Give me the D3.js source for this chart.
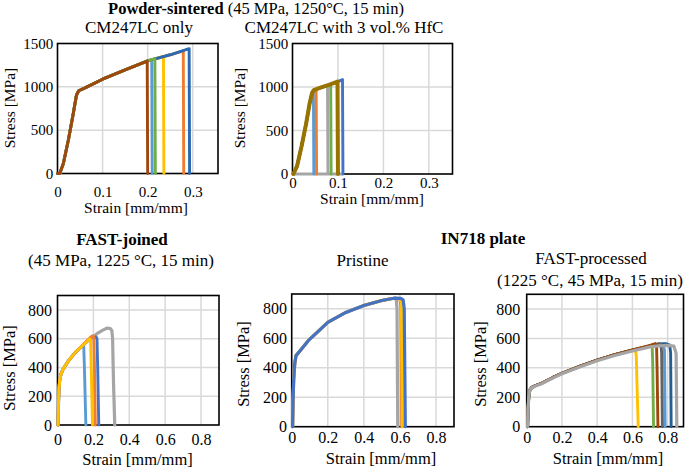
<!DOCTYPE html>
<html><head><meta charset="utf-8">
<script src="https://cdn.jsdelivr.net/npm/d3@7"></script>
<style>
body{margin:0;background:#fff}
svg{display:block}
</style>
</head><body>
<svg id="chart" width="685" height="470"></svg>
<script>
// ---------- tick labels ----------
const ticksXTop = [0, 0.1, 0.2, 0.3];
const ticksYTop = [0, 500, 1000, 1500];
const ticksXBottom = [0, 0.2, 0.4, 0.6, 0.8];
const ticksYBottom = [0, 200, 400, 600, 800];

// ---------- Panel 1: Powder-sintered CM247LC only  [strain, stress] ----------
const cmOnlyLightBlue = [[0,0],[0.005,0],[0.013,115],[0.024,384],[0.035,692],[0.042,903],[0.047,955],[0.06,985],[0.1,1088],[0.15,1195],[0.2,1299],[0.209,1313],[0.21,0]];
const cmOnlyOrange = [[0,0],[0.005,0],[0.013,115],[0.024,384],[0.035,692],[0.042,903],[0.047,955],[0.06,985],[0.1,1088],[0.15,1195],[0.2,1299],[0.25,1370],[0.279,1415],[0.28,0]];
const cmOnlyYellow = [[0,0],[0.005,0],[0.013,115],[0.024,384],[0.035,692],[0.042,903],[0.047,955],[0.06,985],[0.1,1088],[0.15,1195],[0.2,1299],[0.235,1350],[0.236,0]];
const cmOnlyDarkBlue = [[0,0],[0.005,0],[0.013,115],[0.024,384],[0.035,692],[0.042,903],[0.047,955],[0.06,985],[0.1,1088],[0.15,1195],[0.2,1299],[0.25,1370],[0.292,1440],[0.293,0]];
const cmOnlyGreen = [[0,0],[0.005,0],[0.013,115],[0.024,384],[0.035,692],[0.042,903],[0.047,955],[0.06,985],[0.1,1088],[0.15,1195],[0.2,1299],[0.216,1324],[0.217,0]];
const cmOnlyBrown = [[0,0],[0.005,0],[0.013,115],[0.024,384],[0.035,692],[0.042,903],[0.047,955],[0.06,985],[0.1,1088],[0.15,1195],[0.199,1297],[0.2,0]];

// ---------- Panel 2: CM247LC with 3 vol.% HfC ----------
const hfcGray = [[0.11,0],[0,0],[0.002,0],[0.01,90],[0.02,320],[0.03,580],[0.038,820],[0.043,930],[0.047,965],[0.06,990],[0.077,1020],[0.078,0]];
const hfcLightBlue = [[0.002,0],[0.01,90],[0.02,320],[0.03,580],[0.038,820],[0.043,930],[0.046,960],[0.047,0]];
const hfcOrange = [[0.002,0],[0.01,90],[0.02,320],[0.03,580],[0.038,820],[0.043,930],[0.047,965],[0.052,975],[0.053,0]];
const hfcGreen = [[0.002,0],[0.01,90],[0.02,320],[0.03,580],[0.038,820],[0.043,930],[0.047,965],[0.06,990],[0.08,1025],[0.084,1032],[0.085,0]];
const hfcBlue = [[0.002,0],[0.01,90],[0.02,320],[0.03,580],[0.038,820],[0.043,930],[0.047,965],[0.06,990],[0.08,1025],[0.1,1062],[0.11,1085],[0.111,0]];
const hfcOlive = [[0.002,0],[0.01,90],[0.02,320],[0.03,580],[0.038,820],[0.043,930],[0.047,965],[0.06,990],[0.08,1025],[0.099,1062],[0.1,0]];

// ---------- Panel 3: FAST-joined ----------
const joinedGray = [[0.003,0],[0.005,120],[0.008,250],[0.013,320],[0.02,355],[0.03,385],[0.045,415],[0.062,448],[0.08,475],[0.1,505],[0.137,550],[0.16,575],[0.18,600],[0.2,615],[0.22,635],[0.25,658],[0.277,674],[0.295,670],[0.303,655],[0.307,600],[0.312,300],[0.319,0]];
const joinedDarkBlue = [[0.003,0],[0.005,120],[0.008,250],[0.013,320],[0.02,355],[0.03,385],[0.045,415],[0.062,448],[0.08,475],[0.1,505],[0.137,550],[0.16,575],[0.18,598],[0.2,610],[0.215,612],[0.22,600],[0.224,400],[0.23,0]];
const joinedLightBlue = [[0.003,0],[0.005,120],[0.008,250],[0.013,320],[0.02,355],[0.03,385],[0.045,415],[0.062,448],[0.08,475],[0.1,505],[0.137,550],[0.146,555],[0.15,400],[0.158,0]];
const joinedOrange = [[0.003,0],[0.005,120],[0.008,250],[0.013,320],[0.02,355],[0.03,385],[0.045,415],[0.062,448],[0.08,475],[0.1,505],[0.137,550],[0.16,580],[0.18,605],[0.195,620],[0.202,612],[0.206,400],[0.211,0]];
const joinedYellow = [[0.003,0],[0.005,120],[0.008,250],[0.013,320],[0.02,355],[0.03,385],[0.045,415],[0.062,448],[0.08,475],[0.1,505],[0.137,550],[0.16,575],[0.18,600],[0.184,596],[0.188,400],[0.195,0]];

// ---------- Panel 4: IN718 pristine ----------
const pristineGray = [[0.005,0],[0.007,150],[0.011,320],[0.017,430],[0.024,482],[0.05,520],[0.093,585],[0.15,650],[0.2,708],[0.3,775],[0.4,822],[0.5,856],[0.55,868],[0.575,872],[0.58,860],[0.584,800],[0.588,0]];
const pristineOrange = [[0.005,0],[0.007,150],[0.011,320],[0.017,430],[0.024,482],[0.05,520],[0.093,585],[0.15,650],[0.2,708],[0.3,775],[0.4,822],[0.5,856],[0.55,868],[0.575,872],[0.598,868],[0.605,820],[0.61,0]];
const pristineYellow = [[0.005,0],[0.007,150],[0.011,320],[0.017,430],[0.024,482],[0.05,520],[0.093,585],[0.15,650],[0.2,708],[0.3,775],[0.4,822],[0.5,856],[0.55,868],[0.575,872],[0.6,866],[0.608,840],[0.614,0]];
const pristineBlue = [[0.005,0],[0.007,150],[0.011,320],[0.017,430],[0.024,482],[0.05,520],[0.093,585],[0.15,650],[0.2,708],[0.3,775],[0.4,822],[0.5,856],[0.55,868],[0.575,872],[0.605,870],[0.618,860],[0.624,800],[0.63,0]];

// ---------- Panel 5: IN718 FAST-processed ----------
const processedYellow = [[0.005,0],[0.008,120],[0.012,210],[0.018,250],[0.03,268],[0.05,280],[0.085,295],[0.15,335],[0.2,363],[0.3,410],[0.4,453],[0.5,490],[0.6,521],[0.617,524],[0.622,480],[0.627,250],[0.633,0]];
const processedGreen = [[0.005,0],[0.008,120],[0.012,210],[0.018,250],[0.03,268],[0.05,280],[0.085,295],[0.15,335],[0.2,363],[0.3,410],[0.4,453],[0.5,490],[0.6,521],[0.7,550],[0.712,552],[0.715,450],[0.72,0]];
const processedLightBlue = [[0.005,0],[0.008,120],[0.012,210],[0.018,250],[0.03,268],[0.05,280],[0.085,295],[0.15,335],[0.2,363],[0.3,410],[0.4,453],[0.5,490],[0.6,521],[0.7,550],[0.75,562],[0.775,560],[0.782,520],[0.786,0]];
const processedDarkBlue = [[0.005,0],[0.008,120],[0.012,210],[0.018,250],[0.03,268],[0.05,280],[0.085,295],[0.15,335],[0.2,363],[0.3,410],[0.4,453],[0.5,490],[0.6,521],[0.7,550],[0.75,562],[0.79,565],[0.812,555],[0.817,500],[0.82,0]];
const processedDarkGray = [[0.005,0],[0.008,120],[0.012,210],[0.018,250],[0.03,268],[0.05,280],[0.085,295],[0.15,335],[0.2,363],[0.3,410],[0.4,453],[0.5,490],[0.6,521],[0.7,550],[0.75,562],[0.762,560],[0.766,500],[0.77,0]];
const processedBrown = [[0.005,0],[0.008,120],[0.012,210],[0.018,250],[0.03,268],[0.05,280],[0.085,295],[0.15,335],[0.2,363],[0.3,410],[0.4,453],[0.5,490],[0.6,522],[0.7,553],[0.73,565],[0.737,555],[0.74,400],[0.745,0]];
const processedGray = [[0.005,0],[0.008,120],[0.012,210],[0.018,250],[0.03,265],[0.05,277],[0.085,292],[0.15,332],[0.2,360],[0.3,406],[0.4,448],[0.5,484],[0.6,515],[0.7,543],[0.75,550],[0.8,553],[0.835,548],[0.848,500],[0.852,0]];

// ---------- drawing ----------
const svg = d3.select("#chart");
const FONT = "'Liberation Serif', 'Times New Roman', serif";

function drawPanel(p) {
  const x = d3.scaleLinear().domain([0, p.xmax]).range([p.l, p.r]);
  const y = d3.scaleLinear().domain([0, p.ymax]).range([p.b, p.t]);
  const g = svg.append("g");

  g.selectAll(".gx").data(p.xt.filter(v => v > 0 && x(v) < p.r - 1)).join("line")
    .attr("x1", d => x(d)).attr("x2", d => x(d)).attr("y1", p.t).attr("y2", p.b)
    .attr("stroke", "#d9d9d9").attr("stroke-width", 1.5);
  g.selectAll(".gy").data(p.yt.filter(v => v > 0 && y(v) > p.t + 1)).join("line")
    .attr("y1", d => y(d)).attr("y2", d => y(d)).attr("x1", p.l).attr("x2", p.r)
    .attr("stroke", "#d9d9d9").attr("stroke-width", 1.5);

  g.append("rect").attr("x", p.l).attr("y", p.t).attr("width", p.r - p.l).attr("height", p.b - p.t)
    .attr("fill", "none").attr("stroke", "#000").attr("stroke-width", 1.6);

  const line = d3.line().x(d => x(d[0])).y(d => y(d[1]));
  p.series.forEach(s => {
    g.append("path").attr("d", line(s.data)).attr("fill", "none")
      .attr("stroke", s.color).attr("stroke-width", s.w || 2.9)
      .attr("stroke-linejoin", "round").attr("stroke-linecap", "round");
  });

  const ax = g.append("g").attr("transform", `translate(0,${p.b})`)
    .call(d3.axisBottom(x).tickValues(p.xt).tickSize(0)
      .tickPadding(p.xBase - 0.71 * p.tfs).tickFormat(d => String(d)));
  ax.select(".domain").remove();
  ax.attr("font-size", p.tfs).attr("color", "#000");

  const ay = g.append("g").attr("transform", `translate(${p.l},0)`)
    .call(d3.axisLeft(y).tickValues(p.yt).tickSize(0).tickPadding(p.yPad).tickFormat(d => String(d)));
  ay.select(".domain").remove();
  ay.attr("font-size", p.tfs).attr("color", "#000");

  g.append("text").attr("x", p.xLabX).attr("y", p.xLabY).attr("text-anchor", "middle")
    .attr("font-size", p.lfs).text("Strain [mm/mm]");
  g.append("text").attr("transform", `translate(${p.yLabX},${p.yLabY}) rotate(-90)`)
    .attr("text-anchor", "middle").attr("font-size", p.lfs).text("Stress [MPa]");
}

const C = {lb: "#5B9BD5", or: "#ED7D31", gr: "#A5A5A5", ye: "#FFC000", bl: "#4472C4", gn: "#70AD47",
           db: "#255E91", br: "#9E480E", dg: "#636363", ol: "#997300", mb: "#2A68B0"};

drawPanel({l: 57.5, r: 218, t: 43.5, b: 173.5, xmax: 0.356, ymax: 1500, xt: ticksXTop, yt: ticksYTop,
  tfs: 15, lfs: 15.5, xBase: 23, yPad: 4.2, xLabX: 136, xLabY: 213, yLabX: 14.5, yLabY: 108,
  series: [
    {data: cmOnlyLightBlue, color: C.lb}, {data: cmOnlyOrange, color: C.or}, {data: cmOnlyYellow, color: C.ye},
    {data: cmOnlyDarkBlue, color: C.mb}, {data: cmOnlyGreen, color: C.gn}, {data: cmOnlyBrown, color: C.br}]});

drawPanel({l: 292.5, r: 452.5, t: 43.5, b: 174, xmax: 0.352, ymax: 1500, xt: ticksXTop, yt: ticksYTop,
  tfs: 15, lfs: 15.5, xBase: 13.5, yPad: 4.2, xLabX: 372, xLabY: 204, yLabX: 245, yLabY: 108,
  series: [
    {data: hfcGray, color: C.gr}, {data: hfcLightBlue, color: C.lb}, {data: hfcOrange, color: C.or},
    {data: hfcGreen, color: C.gn}, {data: hfcBlue, color: C.bl}, {data: hfcOlive, color: C.ol, w: 4}]});

drawPanel({l: 57.5, r: 219, t: 295.5, b: 425, xmax: 0.9, ymax: 900, xt: ticksXBottom, yt: ticksYBottom,
  tfs: 16, lfs: 16.5, xBase: 20, yPad: 5.5, xLabX: 137.5, xLabY: 465, yLabX: 15, yLabY: 368,
  series: [
    {data: joinedGray, color: C.gr, w: 3.2}, {data: joinedDarkBlue, color: C.bl}, {data: joinedLightBlue, color: C.lb},
    {data: joinedOrange, color: C.or}, {data: joinedYellow, color: C.ye}]});

drawPanel({l: 291.7, r: 454, t: 294, b: 426.7, xmax: 0.9, ymax: 900, xt: ticksXBottom, yt: ticksYBottom,
  tfs: 16, lfs: 16.5, xBase: 16.8, yPad: 4.7, xLabX: 381, xLabY: 464, yLabX: 249, yLabY: 364,
  series: [
    {data: pristineGray, color: C.gr, w: 3.2}, {data: pristineOrange, color: C.or}, {data: pristineYellow, color: C.ye},
    {data: pristineBlue, color: C.bl, w: 3.2}]});

drawPanel({l: 526.7, r: 683.5, t: 294.3, b: 426.7, xmax: 0.89, ymax: 900, xt: ticksXBottom, yt: ticksYBottom,
  tfs: 16, lfs: 16.5, xBase: 16.8, yPad: 6.5, xLabX: 608, xLabY: 464, yLabX: 486, yLabY: 364,
  series: [
    {data: processedYellow, color: C.ye}, {data: processedGreen, color: C.gn}, {data: processedLightBlue, color: C.lb},
    {data: processedDarkBlue, color: C.db}, {data: processedDarkGray, color: C.dg}, {data: processedBrown, color: C.br},
    {data: processedGray, color: C.gr, w: 3.2}]});

// ---------- titles ----------
const t1 = svg.append("text").attr("x", 256).attr("y", 13.5).attr("text-anchor", "middle").attr("font-size", 16.5);
t1.append("tspan").attr("font-weight", "bold").text("Powder-sintered");
t1.append("tspan").text(" (45 MPa, 1250°C, 15 min)");

svg.append("text").attr("x", 139).attr("y", 33).attr("text-anchor", "middle").attr("font-size", 17).text("CM247LC only");
svg.append("text").attr("x", 344).attr("y", 33).attr("text-anchor", "middle").attr("font-size", 17).text("CM247LC with 3 vol.% HfC");

svg.append("text").attr("x", 122).attr("y", 245).attr("text-anchor", "middle").attr("font-size", 17)
  .attr("font-weight", "bold").text("FAST-joined");
svg.append("text").attr("x", 121).attr("y", 266).attr("text-anchor", "middle").attr("font-size", 17)
  .text("(45 MPa, 1225 °C, 15 min)");

svg.append("text").attr("x", 483).attr("y", 244).attr("text-anchor", "middle").attr("font-size", 17)
  .attr("font-weight", "bold").text("IN718 plate");
svg.append("text").attr("x", 362.5).attr("y", 266).attr("text-anchor", "middle").attr("font-size", 17).text("Pristine");
svg.append("text").attr("x", 591).attr("y", 264).attr("text-anchor", "middle").attr("font-size", 17).text("FAST-processed");
svg.append("text").attr("x", 590).attr("y", 286).attr("text-anchor", "middle").attr("font-size", 17)
  .text("(1225 °C, 45 MPa, 15 min)");

// force the serif face on every text (axis groups default to sans-serif)
svg.selectAll("text").style("font-family", FONT).style("fill", "#000");
svg.selectAll("g").attr("font-family", null);
</script>
</body></html>
